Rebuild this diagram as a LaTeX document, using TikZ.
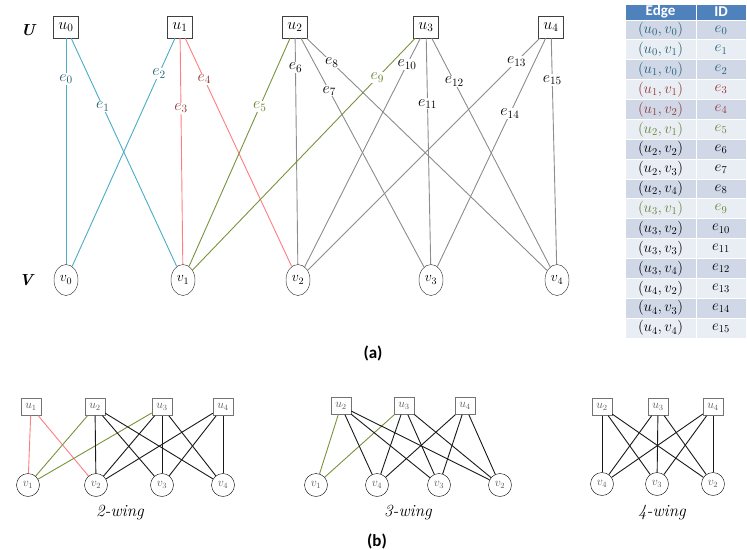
\RequirePackage{fix-cm}
\documentclass[tikz,border=0pt]{standalone}
\usepackage{fontspec}
\newfontfamily\calibri{Carlito}
\usepackage{tikz}
\usetikzlibrary{shapes.geometric}
\definecolor{lineblue}{RGB}{75,172,198}
\definecolor{linered}{RGB}{255,124,128}
\definecolor{linegreen}{RGB}{119,147,60}
\definecolor{linegray}{RGB}{140,140,140}
\definecolor{txtblue}{RGB}{35,95,115}
\definecolor{txtred}{RGB}{149,55,53}
\definecolor{txtgreen}{RGB}{105,130,50}
\definecolor{headblue}{RGB}{79,129,189}
\definecolor{row0}{RGB}{208,216,232}
\definecolor{row1}{RGB}{233,237,244}
\tikzset{
  unode/.style={draw=black!75,minimum width=25pt,minimum height=22pt,inner sep=0pt,
    font=\fontsize{16}{16}\selectfont},
  vnode/.style={draw=black!85,ellipse,minimum width=24pt,minimum height=31pt,inner sep=0pt,
    font=\fontsize{14}{14}\selectfont},
  sidelab/.style={font=\fontsize{16}{16}\selectfont\bfseries\itshape},
  elab/.style={fill=white,inner sep=1pt,font=\fontsize{16}{16}\selectfont},
  bedge/.style={draw=lineblue,line width=0.9pt},
  redge/.style={draw=linered,line width=0.9pt},
  gedge/.style={draw=linegreen,line width=0.9pt},
  kedge/.style={draw=linegray,line width=0.9pt},
  headcell/.style={fill=headblue,draw=white,line width=0.8pt,minimum height=16pt,inner sep=0pt,
    text=white,font=\calibri\bfseries\fontsize{15}{15}\selectfont},
  edgecell/.style={draw=white,line width=0.8pt,minimum width=71pt,minimum height=19.875pt,
    inner sep=0pt,font=\fontsize{15}{15}\selectfont},
  idcell/.style={edgecell,minimum width=50pt},
  sunode/.style={draw=black!55,minimum width=20pt,minimum height=17pt,inner sep=0pt,
    text=black!65,font=\fontsize{12}{12}\selectfont},
  svnode/.style={draw=black,circle,minimum size=23pt,inner sep=0pt,
    text=black!65,font=\fontsize{12}{12}\selectfont},
  wedge/.style={draw=black!90,line width=0.9pt},
  wgreen/.style={draw=linegreen,line width=0.9pt},
  wred/.style={draw=linered,line width=0.9pt},
  winglab/.style={font=\fontsize{17}{17}\selectfont\itshape},
  partlab/.style={font=\calibri\bfseries\fontsize{17}{17}\selectfont}
}
\begin{document}
\begin{tikzpicture}[x=1pt,y=-1pt]
  \useasboundingbox (0,0) rectangle (747,549);
  % (a) input graph
  \node[sidelab] (U) at (28,30) {U};
  \node[sidelab] (V) at (26,280) {V};
  \foreach \i/\x in {0/66,1/180,2/295,3/426,4/551}
    \node[unode] (u\i) at (\x,27) {$u_\i$};
  \foreach \i/\x in {0/66,1/183,2/298,3/431,4/557}
    \node[vnode] (v\i) at (\x,280) {$v_\i$};
  \draw[bedge] (u0) -- node[elab,pos=.18,text=txtblue]{$e_0$} (v0);
  \draw[bedge] (u0) -- node[elab,pos=.30,text=txtblue]{$e_1$} (v1);
  \draw[bedge] (u1) -- node[elab,pos=.155,text=txtblue]{$e_2$} (v0);
  \draw[redge] (u1) -- node[elab,pos=.31,text=txtred]{$e_3$} (v1);
  \draw[redge] (u1) -- node[elab,pos=.18,text=txtred]{$e_4$} (v2);
  \draw[gedge] (u2) -- node[elab,pos=.30,text=txtgreen]{$e_5$} (v1);
  \draw[kedge] (u2) -- node[elab,pos=.13]{$e_6$} (v2);
  \draw[kedge] (u2) -- node[elab,pos=.23]{$e_7$} (v3);
  \draw[kedge] (u2) -- node[elab,pos=.105]{$e_8$} (v4);
  \draw[gedge] (u3) -- node[elab,pos=.17,text=txtgreen]{$e_9$} (v1);
  \draw[kedge] (u3) -- node[elab,pos=.115]{$e_{10}$} (v2);
  \draw[kedge] (u3) -- node[elab,pos=.29]{$e_{11}$} (v3);
  \draw[kedge] (u3) -- node[elab,pos=.19]{$e_{12}$} (v4);
  \draw[kedge] (u4) -- node[elab,pos=.10]{$e_{13}$} (v2);
  \draw[kedge] (u4) -- node[elab,pos=.33]{$e_{14}$} (v3);
  \draw[kedge] (u4) -- node[elab,pos=.185]{$e_{15}$} (v4);
  \node[partlab] (parta) at (373,353) {(a)};
  % edge table
  \node[headcell,minimum width=71pt] (edgehead) at (660.5,12) {Edge};
  \node[headcell,minimum width=50pt] (idhead) at (721,12) {ID};
  \foreach \p/\q/\c [count=\r from 0, evaluate=\r as \shade using {int(mod(\r,2))}] in
    {0/0/txtblue,0/1/txtblue,1/0/txtblue,1/1/txtred,1/2/txtred,2/1/txtgreen,2/2/black,2/3/black,
     2/4/black,3/1/txtgreen,3/2/black,3/3/black,3/4/black,4/2/black,4/3/black,4/4/black}{
    \node[edgecell,fill=row\shade,text=\c] (edge\r) at (660.5,{29.94+19.875*\r}) {$(u_\p,v_\q)$};
    \node[idcell,fill=row\shade,text=\c] (id\r) at (721,{29.94+19.875*\r}) {$e_{\r}$};
  }
  % (b) 2-wing
  \foreach \i/\x in {1/31,2/95,3/162,4/223}
    \node[sunode] (au\i) at (\x,407) {$u_\i$};
  \foreach \i/\x in {1/28,2/96,3/162,4/223}
    \node[svnode] (av\i) at (\x,485) {$v_\i$};
  \draw[wred] (au1) -- (av1);
  \draw[wred] (au1) -- (av2);
  \draw[wgreen] (au2) -- (av1);
  \draw[wgreen] (au3) -- (av1);
  \foreach \a/\b in {2/2,2/3,2/4,3/2,3/3,3/4,4/2,4/3,4/4}
    \draw[wedge] (au\a) -- (av\b);
  \node[winglab] (twowing) at (120,513) {2-wing};
  % (b) 3-wing
  \foreach \i/\x in {2/341,3/404,4/465}
    \node[sunode] (bu\i) at (\x,406) {$u_\i$};
  \foreach \i/\x in {1/316,4/377,3/439,2/500}
    \node[svnode] (bv\i) at (\x,485) {$v_\i$};
  \draw[wgreen] (bu2) -- (bv1);
  \draw[wgreen] (bu3) -- (bv1);
  \foreach \a/\b in {2/4,2/3,2/2,3/4,3/3,3/2,4/4,4/3,4/2}
    \draw[wedge] (bu\a) -- (bv\b);
  \node[winglab] (threewing) at (408,513) {3-wing};
  \node[partlab] (partb) at (377,541) {(b)};
  % (b) 4-wing
  \foreach \i/\x in {2/602,3/658,4/713}
    \node[sunode] (cu\i) at (\x,407) {$u_\i$};
  \foreach \i/\x in {4/602,3/657,2/713}
    \node[svnode] (cv\i) at (\x,484) {$v_\i$};
  \foreach \a/\b in {2/4,2/3,2/2,3/4,3/3,3/2,4/4,4/3,4/2}
    \draw[wedge] (cu\a) -- (cv\b);
  \node[winglab] (fourwing) at (662,513) {4-wing};
\end{tikzpicture}
\end{document}
